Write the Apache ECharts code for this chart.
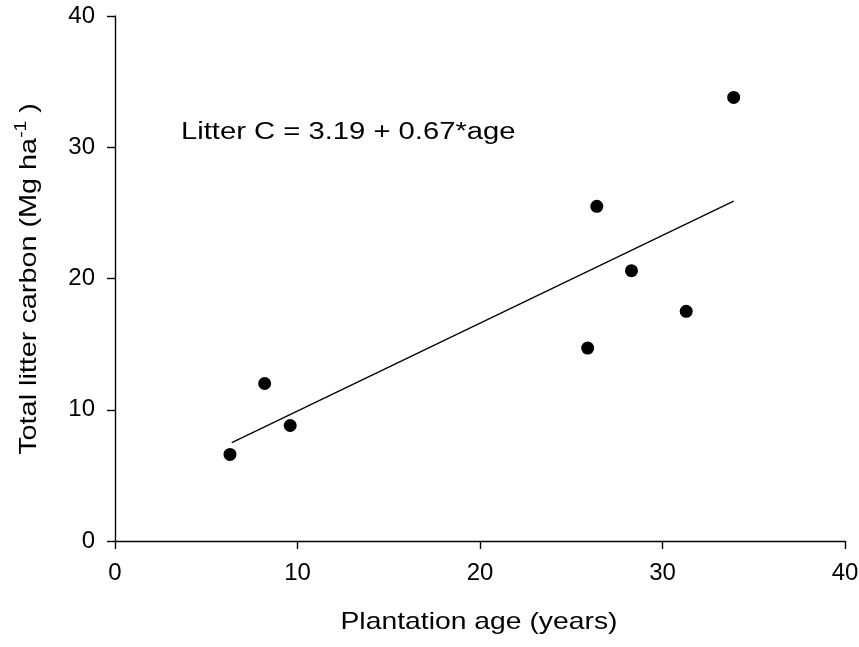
<!DOCTYPE html>
<html>
<head>
<meta charset="utf-8">
<script src="https://cdn.jsdelivr.net/npm/echarts@6/dist/echarts.min.js"></script>
<style>
  html, body { margin: 0; padding: 0; background: #fff; }
  #main { width: 859px; height: 647px; }
</style>
</head>
<body>
<div id="main"></div>
<script>
// plantation age (years) and total litter carbon (Mg ha-1)
var ageYears = [6.3, 8.2, 9.6, 25.9, 26.4, 28.3, 31.3, 33.9];
var litterC = [6.6, 12.0, 8.8, 14.7, 25.5, 20.6, 17.5, 33.8];

// fitted line end points
var fitX = [6.4, 33.9];
var fitY = [7.5, 25.9];

var xTicks = [0, 10, 20, 30, 40];
var yTicks = [0, 10, 20, 30, 40];

var font = "'Liberation Sans', Arial, sans-serif";

var points = ageYears.map(function (a, i) { return [a, litterC[i]]; });
var fitLine = fitX.map(function (a, i) { return [a, fitY[i]]; });

var myChart = echarts.init(document.getElementById("main"));

var axisCommon = {
  type: "value",
  min: 0,
  max: 40,
  interval: 10,
  splitLine: { show: false },
  axisLine: { show: true, onZero: false, lineStyle: { color: "#000", width: 1.4 } },
  axisTick: { show: true, inside: false, length: 8, lineStyle: { color: "#000", width: 1.4 } },
};

myChart.setOption({
  animation: false,
  backgroundColor: "#fff",
  grid: { left: 115, right: 14, top: 16, bottom: 106, outerBoundsMode: "none" },
  xAxis: Object.assign({}, axisCommon, {
    axisLabel: {
      color: "#000", fontSize: 24, fontFamily: font, margin: 20,
      formatter: function (v) { return xTicks.indexOf(v) >= 0 ? String(v) : ""; },
    },
  }),
  yAxis: Object.assign({}, axisCommon, {
    axisLabel: {
      color: "#000", fontSize: 24, fontFamily: font, margin: 20,
      formatter: function (v) { return yTicks.indexOf(v) >= 0 ? String(v) : ""; },
    },
  }),
  // axis titles and the fit equation (text in the original is drawn a bit wide)
  graphic: [
    {
      type: "text",
      x: 181,
      y: 133,
      scaleX: 1.27,
      style: {
        text: "Litter C = 3.19 + 0.67*age",
        fontSize: 23,
        fontFamily: font,
        fill: "#000",
        textAlign: "left",
        textVerticalAlign: "middle",
      },
    },
    {
      type: "text",
      x: 479,
      y: 622,
      scaleX: 1.18,
      style: {
        text: "Plantation age (years)",
        fontSize: 24,
        fontFamily: font,
        fill: "#000",
        textAlign: "center",
        textVerticalAlign: "middle",
      },
    },
    {
      type: "text",
      x: 29,
      y: 279,
      rotation: Math.PI / 2,
      scaleX: 1.2,
      style: {
        text: "{n|Total litter carbon (Mg ha}{sup|-1}{n| )}",
        fill: "#000",
        textAlign: "center",
        textVerticalAlign: "middle",
        rich: {
          n: { fontSize: 24, fontFamily: font, fill: "#000" },
          sup: { fontSize: 16, fontFamily: font, fill: "#000", padding: [0, 0, 14, 0] },
        },
      },
    },
  ],
  series: [
    {
      name: "fit",
      type: "line",
      data: fitLine,
      symbol: "none",
      lineStyle: { color: "#000", width: 1.3 },
      z: 2,
    },
    {
      name: "litter",
      type: "scatter",
      data: points,
      symbolSize: 13,
      itemStyle: { color: "#000", opacity: 1 },
      z: 3,
    },
  ],
});
</script>
</body>
</html>
